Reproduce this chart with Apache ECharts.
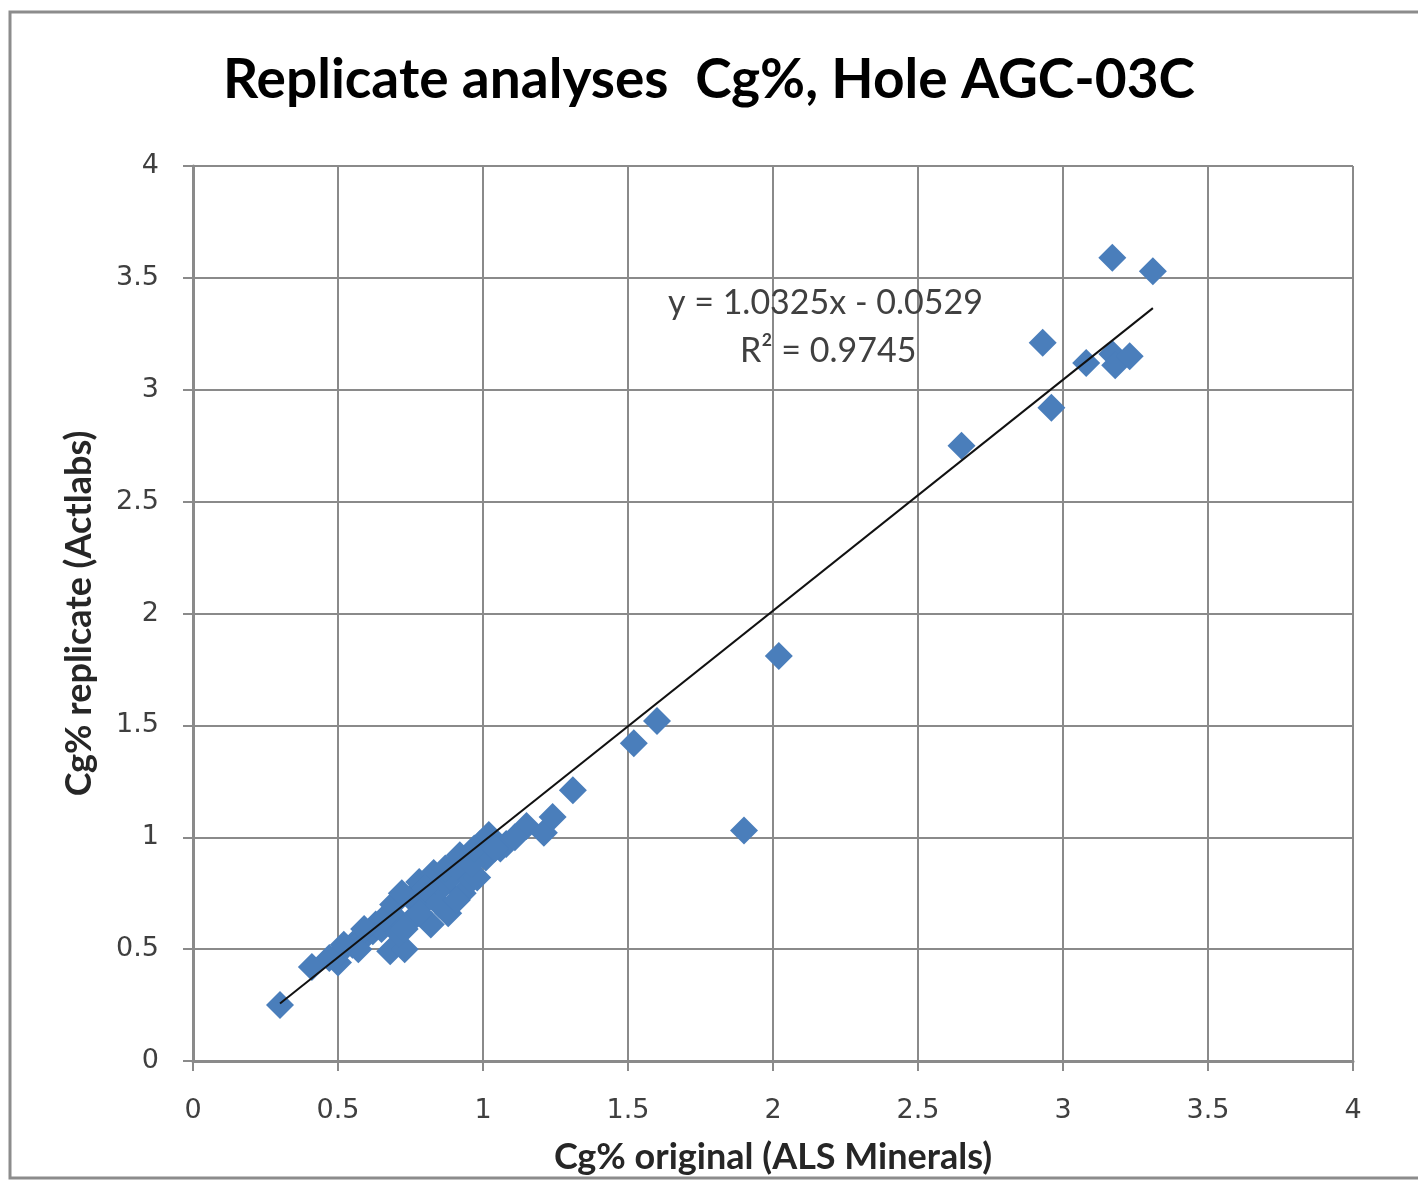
<!DOCTYPE html>
<html>
<head>
<meta charset="utf-8">
<script src="https://cdn.jsdelivr.net/npm/echarts@6/dist/echarts.min.js"></script>
<style>
  html, body { margin: 0; padding: 0; background: #fff; }
  #chart { width: 1418px; height: 1180px; }
</style>
</head>
<body>
<div id="chart"></div>
<script>
// Carbon (graphite) replicate pairs: original assay vs. replicate assay
const originalCg = [
  0.30, 0.41, 0.50, 0.51, 0.55, 0.58, 0.57, 0.62, 0.63, 0.65,
  0.68, 0.73, 0.70, 0.71, 0.75, 0.76, 0.78, 0.79, 0.82, 0.82,
  0.83, 0.86, 0.88, 0.89, 0.92, 0.93, 0.95, 0.96, 0.98, 0.99,
  1.01, 1.02, 1.06, 1.08, 1.15, 1.21, 1.24, 1.31, 1.52, 1.60,
  2.02, 1.90, 2.65, 2.93, 2.96, 3.08, 3.17, 3.18, 3.23, 3.17,
  3.31, 0.47, 0.52, 0.59, 0.66, 0.69, 0.72, 0.73, 0.78, 0.80,
  0.85, 0.87, 0.90, 0.91, 0.96, 0.97, 1.04, 1.11
];
const replicateCg = [
  0.25, 0.42, 0.44, 0.49, 0.52, 0.54, 0.50, 0.58, 0.61, 0.59,
  0.49, 0.50, 0.64, 0.57, 0.73, 0.64, 0.80, 0.70, 0.61, 0.75,
  0.84, 0.78, 0.66, 0.82, 0.92, 0.75, 0.86, 0.81, 0.82, 0.97,
  0.91, 1.01, 0.95, 0.97, 1.05, 1.02, 1.09, 1.21, 1.42, 1.52,
  1.81, 1.03, 2.75, 3.21, 2.92, 3.12, 3.16, 3.11, 3.15, 3.59,
  3.53, 0.46, 0.52, 0.59, 0.64, 0.70, 0.75, 0.59, 0.66, 0.77,
  0.70, 0.86, 0.88, 0.72, 0.88, 0.95, 0.95, 1.00
];

// Linear trend fitted to the pairs
const trendSlope = 1.0325;
const trendIntercept = -0.0529;
const trendR2 = 0.9745;

const axisTicks = [0, 0.5, 1, 1.5, 2, 2.5, 3, 3.5, 4];

const points = originalCg.map((x, i) => [x, replicateCg[i]]);
const xMin = Math.min(...originalCg);
const xMax = Math.max(...originalCg);
const trend = [xMin, xMax].map(x => [x, trendSlope * x + trendIntercept]);

const gridColor = '#8a8a8a';
const labelFont = {
  fontFamily: 'DejaVu Sans',
  fontSize: 27,
  color: '#3f3f3f'
};

const chart = echarts.init(document.getElementById('chart'), null, { renderer: 'canvas' });

chart.setOption({
  backgroundColor: '#ffffff',
  animation: false,
  title: {
    text: 'Replicate analyses  Cg%, Hole AGC-03C',
    left: 'center',
    top: 48,
    textStyle: {
      fontFamily: 'Lato',
      fontWeight: 'bold',
      fontSize: 55,
      color: '#000000'
    }
  },
  grid: { left: 193, right: 65, top: 166, bottom: 118 },
  xAxis: {
    type: 'value',
    min: axisTicks[0],
    max: axisTicks[axisTicks.length - 1],
    interval: 0.5,
    name: 'Cg% original (ALS Minerals)',
    nameLocation: 'middle',
    nameGap: 78,
    nameTextStyle: {
      fontFamily: 'Lato',
      fontWeight: 'bold',
      fontSize: 36,
      color: '#262626'
    },
    axisLine: { show: true, onZero: false, lineStyle: { color: gridColor, width: 3 } },
    axisTick: { show: true, length: 10, lineStyle: { color: gridColor, width: 2 } },
    axisLabel: Object.assign({ margin: 36 }, labelFont),
    splitLine: { show: true, lineStyle: { color: gridColor, width: 2 } }
  },
  yAxis: {
    type: 'value',
    min: axisTicks[0],
    max: axisTicks[axisTicks.length - 1],
    interval: 0.5,
    name: 'Cg% replicate (Actlabs)',
    nameLocation: 'middle',
    nameGap: 96,
    nameTextStyle: {
      fontFamily: 'Lato',
      fontWeight: 'bold',
      fontSize: 36,
      color: '#262626'
    },
    axisLine: { show: true, onZero: false, lineStyle: { color: gridColor, width: 3 } },
    axisTick: { show: true, length: 10, lineStyle: { color: gridColor, width: 2 } },
    axisLabel: Object.assign({ margin: 34 }, labelFont),
    splitLine: { show: true, lineStyle: { color: gridColor, width: 2 } }
  },
  graphic: [
    {
      type: 'rect',
      silent: true,
      shape: { x: 10, y: 12, width: 1420, height: 1166 },
      style: { fill: null, stroke: '#8c8c8c', lineWidth: 3 }
    },
    {
      type: 'text',
      left: 668,
      top: 286,
      z: 10,
      style: {
        text: 'y = ' + trendSlope.toFixed(4) + 'x - ' + Math.abs(trendIntercept).toFixed(4),
        fontFamily: 'Lato',
        fontSize: 34,
        fill: '#404040'
      }
    },
    {
      type: 'text',
      left: 740,
      top: 334,
      z: 10,
      style: {
        text: 'R² = ' + trendR2.toFixed(4),
        fontFamily: 'Lato',
        fontSize: 34,
        fill: '#404040'
      }
    }
  ],
  series: [
    {
      name: 'Replicates',
      type: 'scatter',
      data: points,
      symbol: 'diamond',
      symbolSize: 28,
      itemStyle: { color: '#4a7ebb', opacity: 1 },
      z: 3
    },
    {
      name: 'Linear trend',
      type: 'line',
      data: trend,
      showSymbol: false,
      symbol: 'none',
      lineStyle: { color: '#111111', width: 2 },
      z: 4
    }
  ]
});
</script>
</body>
</html>
